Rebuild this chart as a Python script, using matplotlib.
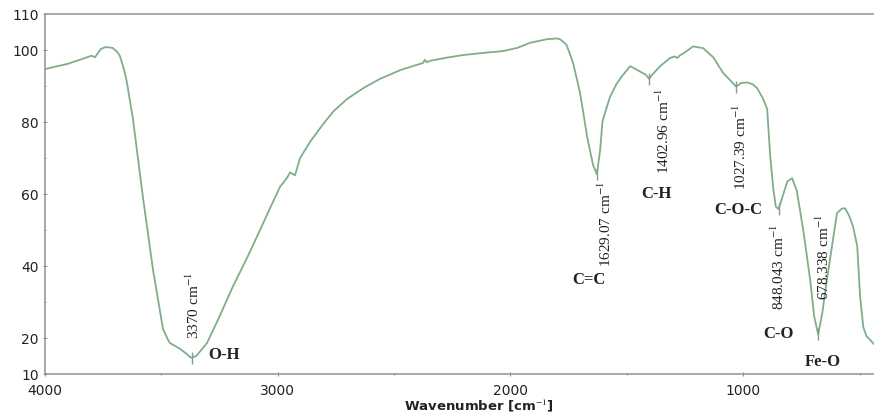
import matplotlib.pyplot as plt
from matplotlib.ticker import MultipleLocator

# FTIR spectrum
wavenumber = [4000, 3900, 3850, 3800, 3785, 3760, 3740, 3710, 3690, 3678,
              3660, 3648, 3622, 3579, 3536, 3493, 3470, 3463, 3420, 3390,
              3373, 3350, 3304, 3250, 3192, 3130, 3076, 3030, 2990, 2960,
              2947, 2935, 2926, 2904, 2880, 2861, 2805, 2760, 2702, 2630,
              2560, 2470, 2376, 2368, 2360, 2345, 2280, 2204, 2100, 2032,
              1970, 1916, 1843, 1800, 1787, 1760, 1745, 1731, 1715, 1701,
              1688, 1671, 1658, 1645, 1629, 1615, 1605, 1594, 1572, 1545,
              1520, 1486, 1465, 1443, 1420, 1404, 1390, 1357, 1314, 1295,
              1284, 1270, 1258, 1215, 1172, 1129, 1086, 1050, 1030, 1010,
              983, 960, 940, 915, 897, 884, 870, 860, 848, 830,
              810, 790, 770, 742, 712, 695, 678, 660, 640, 615,
              597, 575, 562, 545, 528, 510, 498, 484, 470, 455, 438]
transmittance = [94.7, 96.2, 97.3, 98.4, 98.0, 100.3, 100.8, 100.6, 99.5, 98.3,
                 94.5, 91.0, 80.8, 59.0, 39.0, 22.5, 19.3, 18.6, 17.0, 15.5,
                 14.5, 15.0, 18.6, 26.0, 34.4, 42.5, 50.0, 56.5, 62.0, 64.5,
                 66.0, 65.5, 65.2, 70.0, 72.5, 74.5, 79.4, 83.0, 86.4, 89.5,
                 92.0, 94.5, 96.4, 97.3, 96.6, 97.0, 97.8, 98.6, 99.3, 99.7,
                 100.6, 102.0, 103.0, 103.2, 103.0, 101.5, 99.0, 96.4, 92.0, 88.0,
                 83.0, 76.0, 72.0, 68.0, 65.5, 72.0, 80.0, 82.5, 87.0, 90.5,
                 92.8, 95.5, 94.8, 94.0, 93.2, 92.0, 93.2, 95.5, 97.8, 98.2,
                 97.8, 98.6, 99.0, 101.0, 100.5, 98.0, 93.6, 91.2, 89.8, 90.8,
                 91.0, 90.5, 89.4, 86.5, 83.6, 70.5, 61.0, 56.5, 55.8, 59.5,
                 63.5, 64.4, 61.0, 50.0, 36.0, 26.0, 21.0, 27.0, 36.4, 47.0,
                 54.7, 56.0, 56.0, 54.0, 51.0, 45.5, 31.7, 23.0, 20.5, 19.5, 18.3]

# labelled bands
peak_wn = [3370, 1629, 1404, 1030, 848, 678]
peak_val = [14.5, 65.5, 92.0, 89.8, 55.8, 21.0]
peak_text = ["3370 cm$^{-1}$", "1629.07 cm$^{-1}$", "1402.96 cm$^{-1}$",
             "1027.39 cm$^{-1}$", "848.043 cm$^{-1}$", "678.338 cm$^{-1}$"]
bond = ["O-H", "C=C", "C-H", "C-O-C", "C-O", "Fe-O"]

# where the texts sit (x, y) in data units
num_pos = [(3364, 20), (1594, 40), (1344, 65.8), (1013, 61.4), (850, 28), (657, 30.8)]
bond_pos = [(3231, 15.5), (1662, 36.4), (1374, 60.3), (1022, 55.8), (850, 21.4), (657, 13.6)]

plt.rcParams['mathtext.fontset'] = 'stix'
line_col = '#7fae88'

fig = plt.figure(figsize=(8.74, 4.14), dpi=100)
ax = fig.add_axes([45 / 874, 1 - 375 / 414, 1 - 45 / 874, 360 / 414])

ax.plot(wavenumber, transmittance, color=line_col, lw=1.3)
ax.plot(peak_wn, peak_val, ls='none', marker='|', ms=9, mew=1.0, color='#8a9a8e')

for t, (x, y) in zip(peak_text, num_pos):
    ax.text(x, y, t, rotation=90, ha='center', va='bottom', fontsize=11,
            family='Liberation Serif', color='#222222')
for t, (x, y) in zip(bond, bond_pos):
    ax.text(x, y, t, ha='center', va='center', fontsize=12, fontweight='bold',
            family='Liberation Serif', color='#222222')

ax.set_xlim(4000, 438)
ax.set_ylim(10, 110)
ax.set_xticks([4000, 3000, 2000, 1000])
ax.xaxis.set_minor_locator(MultipleLocator(500))
ax.set_yticks([10, 20, 40, 60, 80, 100, 110])
ax.set_yticks([30, 50, 70, 90], minor=True)
ax.tick_params(which='both', direction='inout', length=3, width=0.8, color='#888888',
               labelsize=10, labelcolor='#222222')
ax.tick_params(axis='x', pad=5)
ax.tick_params(axis='y', pad=3)
ax.tick_params(which='minor', length=2)

for s in ['left', 'bottom', 'top']:
    ax.spines[s].set_color('#999999')
    ax.spines[s].set_linewidth(1.2)
ax.spines['right'].set_visible(False)

ax.text(0.5235, -0.085, "Wavenumber [cm$^{-1}$]", transform=ax.transAxes,
        ha='center', va='center', fontsize=9.5, fontweight='bold', color='#222222')

fig.savefig("out.png", dpi=100)
